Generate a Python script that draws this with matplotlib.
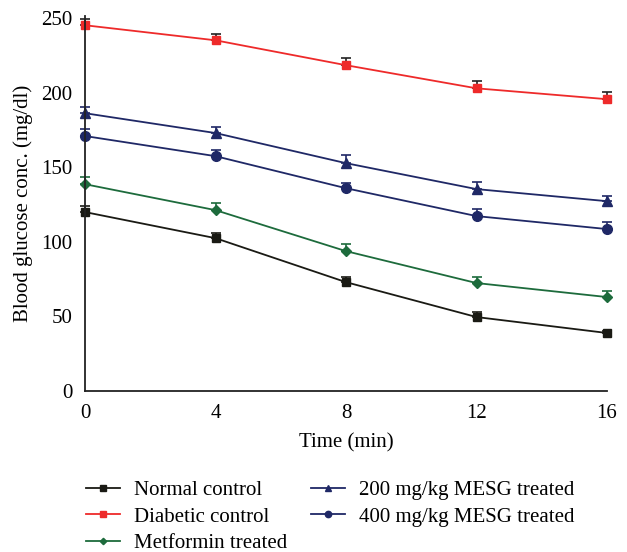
import numpy as np
import matplotlib
matplotlib.use("Agg")
import matplotlib.pyplot as plt
from matplotlib.lines import Line2D

plt.rcParams['font.family'] = ['Liberation Serif', 'DejaVu Serif']

## dados
tempo = [0, 4, 8, 12, 16]
normal = [120, 102.5, 73, 49.6, 38.9]
normal_err = [4.4, 3.8, 3.4, 3.4, 1.5]
diabetico = [245.3, 235.2, 218.5, 203, 195.7]
diabetico_err = [4.4, 4.2, 4.7, 4.7, 4.5]
metformina = [138.7, 121.3, 93.8, 72.4, 63]
metformina_err = [5, 4.9, 4.7, 4, 4]
mesg200 = [186.3, 173, 152.8, 135.4, 127.3]
mesg200_err = [4.4, 4, 5.4, 5, 3.8]
mesg400 = [171, 157.5, 136, 117.3, 108.6]
mesg400_err = [4.5, 4, 3.6, 4.7, 5]

fig = plt.figure(figsize=(6.27, 5.52), dpi=100)
ax = fig.add_axes([85/627, 161/552, 522/627, 375/552])

handles = []
def curva(y, err, cor, marcador, ms, nome, cor_err):
    ax.errorbar(tempo, y, yerr=[np.zeros(len(err)), err], color=cor, ecolor=cor_err,
                marker=marcador, markersize=ms, linewidth=1.3, elinewidth=1.2,
                capsize=3.5, capthick=1.2)
    handles.append(Line2D([], [], color=cor, marker=marcador, markersize=ms*0.65,
                          linewidth=1.3, label=nome))

curva(normal, normal_err, '#1a1a14', 's', 6, 'Normal control', '#1a1a14')
curva(diabetico, diabetico_err, '#ee2a2a', 's', 6, 'Diabetic control', '#222222')
curva(metformina, metformina_err, '#1d6b3c', 'D', 5, 'Metformin treated', '#1d6b3c')
curva(mesg200, mesg200_err, '#1f2866', '^', 7.5, '200 mg/kg MESG treated', '#1f2866')
curva(mesg400, mesg400_err, '#1f2866', 'o', 7, '400 mg/kg MESG treated', '#1f2866')

ax.set_xlim(0, 16)
ax.set_ylim(0, 251.5)
ax.set_xticks([0, 4, 8, 12, 16])
ax.set_yticks([0, 50, 100, 150, 200, 250])
ax.tick_params(length=0, labelsize=15)
ax.tick_params(axis='x', pad=9)
ax.tick_params(axis='y', pad=9)
ax.spines['top'].set_visible(False)
ax.spines['right'].set_visible(False)
for s in ['left', 'bottom']:
    ax.spines[s].set_linewidth(1.3)
    ax.spines[s].set_color('#222222')
for artist in ax.get_children():
    artist.set_clip_on(False)

ax.set_xlabel('Time (min)', fontsize=15, labelpad=8)
ax.set_ylabel('Blood glucose conc. (mg/dl)', fontsize=15, labelpad=6)

# legenda em duas colunas
fig.legend(handles=handles, ncol=2,
           loc='upper left', bbox_to_anchor=(67/627, 1 - 462/552),
           frameon=False, fontsize=15, handlelength=1.65,
           columnspacing=1.15, labelspacing=0.32, handletextpad=0.65)

fig.savefig('out.png', dpi=100)
